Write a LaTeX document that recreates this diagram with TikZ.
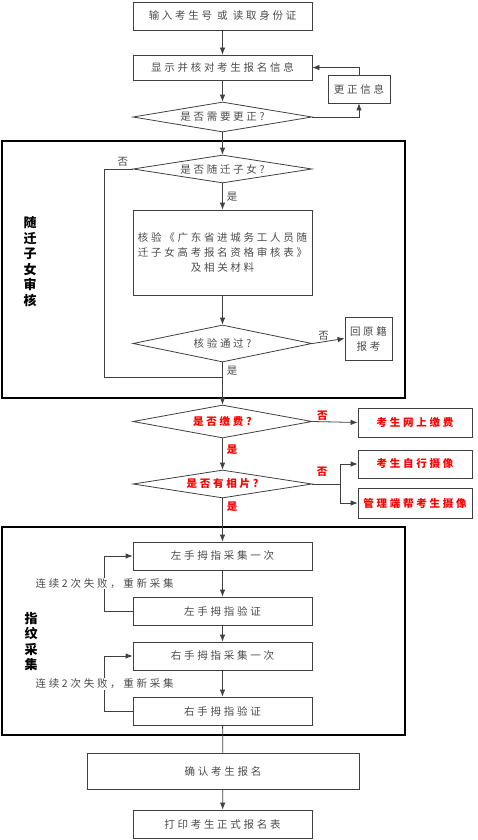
\documentclass[tikz,border=0pt]{standalone}
\usepackage{fontspec}
\newfontfamily\cjk[LetterSpace=26]{Noto Sans CJK SC}
\newfontfamily\cjkb{Noto Sans CJK SC}
\usetikzlibrary{shapes.geometric,arrows.meta,positioning}
\tikzset{>={Latex[length=7pt,width=5.5pt]}}
\tikzset{
  ln/.style={draw=black!75, line width=0.8pt},
  box/.style={ln, minimum width=179pt, minimum height=28pt, inner sep=1pt, align=center,
    font=\cjk\fontsize{10.5}{15}\selectfont, text=black!70},
  test/.style={ln, diamond, aspect=6, minimum width=179pt, minimum height=30pt, inner sep=0pt,
    font=\cjk\fontsize{10.5}{15}\selectfont, text=black!70},
  redbox/.style={box, minimum width=114pt, text=red, font=\cjk\bfseries\fontsize{10.5}{15}\selectfont},
  lab/.style={inner sep=1pt, font=\cjk\fontsize{10.5}{12}\selectfont, text=black!70},
  redlab/.style={lab, text=red, font=\cjk\bfseries\fontsize{10.5}{12}\selectfont},
  frame/.style={draw=black, line width=1.6pt},
  side/.style={align=center, font=\cjkb\bfseries\fontsize{13}{15.5}\selectfont}
}
\begin{document}
\begin{tikzpicture}[x=1pt,y=-1pt]
  \useasboundingbox[fill=white] (0,0) rectangle (477,840);
  \draw[frame] (2,141) rectangle (405,398);
  \draw[frame] (2,527) rectangle (405,735);
  \node[side] (sideA) at (30,261.5) {随\\迁\\子\\女\\审\\核};
  \node[side] (sideB) at (31,641.5) {指\\纹\\采\\集};

  \node[box] (input) at (222.5,16) {输入考生号 或 读取身份证};
  \node[box, minimum height=25pt] (show) at (222.5,67.5) {显示并核对考生报名信息};
  \node[test] (need) at (222.5,117) {是否需要更正?};
  \node[box, minimum width=62pt] (fix) at (359,89) {更正信息};
  \node[test, minimum height=28pt] (kid) at (222.5,169) {是否随迁子女?};
  \node[box, minimum height=85pt] (chk) at (222.5,252.5) {核验《广东省进城务工人员随\\迁子女高考报名资格审核表》\\及相关材料};
  \node[test, minimum height=37pt] (pass) at (222.5,343.5) {核验通过?};
  \node[box, minimum width=47pt, minimum height=43pt] (back) at (368.5,338.5) {回原籍\\报考};
  \coordinate (join) at (222.5,377);
  \node[test, minimum height=33pt, text=red, font=\cjk\bfseries\fontsize{10.5}{15}\selectfont] (fee) at (222.5,421.5) {是否缴费?};
  \node[redbox, minimum height=29pt] (pay) at (415,422.5) {考生网上缴费};
  \node[test, minimum height=28pt, text=red, font=\cjk\bfseries\fontsize{10.5}{15}\selectfont] (photo) at (222.5,484) {是否有相片?};
  \node[redbox] (self) at (415,464) {考生自行摄像};
  \node[redbox, minimum height=30pt] (help) at (415,503) {管理端帮考生摄像};
  \node[box] (l1) at (222.5,556) {左手拇指采集一次};
  \node[box] (l2) at (222.5,611) {左手拇指验证};
  \node[box] (r1) at (222.5,656) {右手拇指采集一次};
  \node[box] (r2) at (222.5,711) {右手拇指验证};
  \node[box, minimum width=272pt, minimum height=36pt] (ok) at (223,771) {确认考生报名};
  \node[box] (print) at (222.5,824) {打印考生正式报名表};

  \draw[ln,->] (input) -- (show);
  \draw[ln,->] (show) -- (need);
  \draw[ln,->] (need.east) -| (fix.south);
  \draw[ln,->] (fix.north) |- (show.east);
  \draw[ln,->] (need.south) -- (kid.north);
  \draw[ln] (kid.west) -- node[lab, above=1pt, pos=0.35] (no1) {否} ++(-28,0) |- (join);
  \draw[ln,->] (kid.south) -- node[lab, right=3pt] (yes1) {是} (chk.north);
  \draw[ln,->] (chk.south) -- (pass.north);
  \draw[ln,->] (pass.east) -- node[lab, above, pos=0.35] (no2) {否} (back.west);
  \draw[ln,->] (pass.south) -- node[lab, right=3pt, pos=0.2] (yes2) {是} (fee.north);
  \draw[ln,->] (fee.east) -- node[redlab, above, pos=0.22] (no3) {否} (pay.west);
  \draw[ln,->] (photo.east) -- node[redlab, above=6pt, pos=0.35] (no4) {否} ++(28,0) |- (self.west);
  \draw[ln,->] (photo.east) -- ++(28,0) |- (help.west);
  \draw[ln,->] (fee.south) -- node[redlab, right=3pt, pos=0.35] (yes3) {是} (photo.north);
  \draw[ln,->] (photo.south) -- node[redlab, right=3pt, pos=0.2] (yes4) {是} (l1.north);
  \draw[ln,->] (l1) -- (l2);
  \draw[ln,->] (l2.west) -- ++(-28,0) |- node[lab, pos=0.25, fill=white] (retry1) {连续2次失败，重新采集} (l1.west);
  \draw[ln,->] (l2) -- (r1);
  \draw[ln,->] (r1) -- (r2);
  \draw[ln,->] (r2.west) -- ++(-28,0) |- node[lab, pos=0.25, fill=white] (retry2) {连续2次失败，重新采集} (r1.west);
  \draw[ln] (r2) -- (ok);
  \draw[ln,->] (ok) -- (print);
\end{tikzpicture}
\end{document}
